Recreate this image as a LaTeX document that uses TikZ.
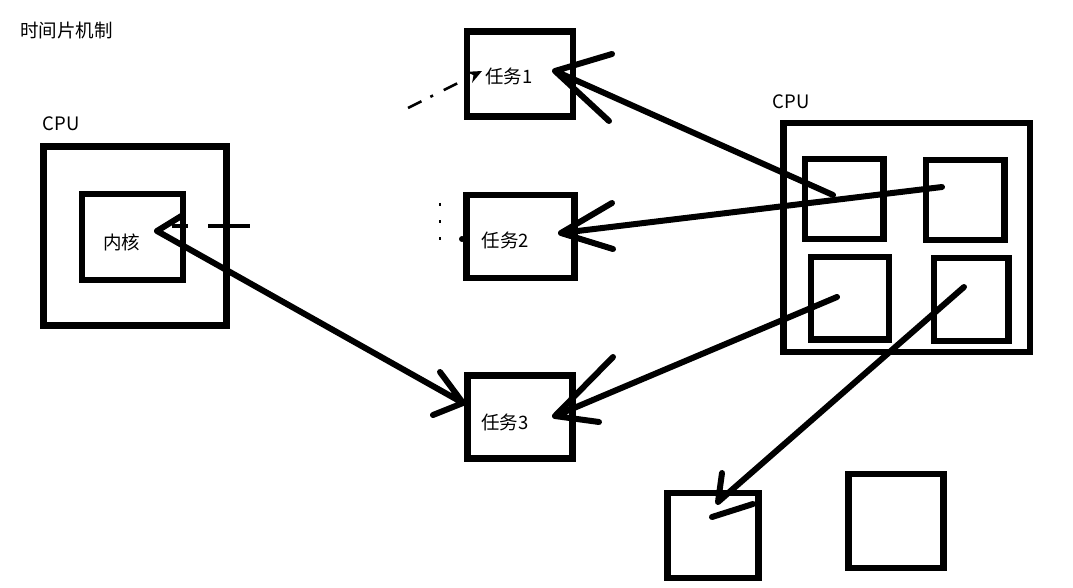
\documentclass[tikz,border=0pt]{standalone}
\usepackage{fontspec}
\setmainfont{Noto Sans CJK SC}
\usetikzlibrary{calc,arrows.meta}

\begin{document}
\begin{tikzpicture}[x=1pt,y=-1pt,>={Stealth[length=14pt,width=12pt]},
    box/.style={draw,line width=6.5pt,inner sep=0pt},
    stroke/.style={line width=6pt,line cap=round},
    txt/.style={font=\fontsize{18.5}{22}\selectfont,text=black,inner sep=0pt}]
\useasboundingbox (0,0) rectangle (1073,588);
\node[txt,anchor=west](title) at (20,30){时间片机制};
% left cpu, one core
\node[box,minimum width=183pt,minimum height=179pt](cpuL) at (135,236){};
\node[box,minimum width=101pt,minimum height=86pt](core) at (132.5,237){};
\node[txt](cpuLlab) at (61,124){CPU};
\node[txt](corelab) at ($(core)+(-11,5)$){内核};
% tasks
\node[box,minimum width=106pt,minimum height=85pt](task1) at (520,74){};
\node[box,minimum width=108pt,minimum height=83pt](task2) at (520.5,236.5){};
\node[box,minimum width=105pt,minimum height=83pt](task3) at (520,417){};
\node[txt](t1lab) at ($(task1)+(-11,2)$){任务1};
\node[txt](t2lab) at ($(task2)+(-15,4)$){任务2};
\node[txt](t3lab) at ($(task3)+(-15,5)$){任务3};
% right cpu, four cores
\node[box,minimum width=246.5pt,minimum height=229pt](cpuR) at (906.75,237.5){};
\node[txt](cpuRlab) at (791,102){CPU};
\node[box,minimum width=78.5pt,minimum height=80pt](coreA) at (844,199){};
\node[box,minimum width=78.5pt,minimum height=80pt](coreB) at (965,200){};
\node[box,minimum width=78pt,minimum height=82.5pt](coreC) at (850,298){};
\node[box,minimum width=74.5pt,minimum height=83pt](coreD) at (971,299.5){};
% bottom boxes
\node[box,minimum width=91pt,minimum height=85pt](slotA) at (713,535.5){};
\node[box,minimum width=95pt,minimum height=94pt](slotB) at (896,521){};
% arrow ends
\coordinate (a1) at (833,195);
\coordinate (b1) at (942,187);
\coordinate (c1) at (837,297);
\coordinate (d1) at (964,287);
\coordinate (k1) at (157,231);
\coordinate (t1) at (555,71);
\coordinate (t2) at (561,233);
\coordinate (t3) at (555,416);
\coordinate (t3l) at (463,403);
\coordinate (s1) at (718,502);
\draw[stroke](a1)--(t1) (t1)--++(57,-17) (t1)--++(54,50);
\draw[stroke](b1)--(t2) (t2)--++(51,-30) (t2)--++(52,16);
\draw[stroke](c1)--(t3) (t3)--++(58,-59) (t3)--++(44,6);
\draw[stroke](k1)--(t3l) (t3l)--++(-23,-31) (t3l)--++(-30,12) (k1)--++(26,-16);
\draw[stroke](d1)--(s1) (s1)--++(4,-29) (712,517)--(753,504);
% dashed bits
\draw[line width=4pt,dash pattern=on 16pt off 20pt on 42pt off 10pt](172,226)--(250,226);
\draw[line width=2.5pt,dash pattern=on 15pt off 10pt on 3pt off 12pt,->](408,108)--(482,71);
\draw[line width=2.5pt,dash pattern=on 3pt off 14pt](440,203)--(440,247);
\fill (462,239) circle (3pt);
\end{tikzpicture}
\end{document}
